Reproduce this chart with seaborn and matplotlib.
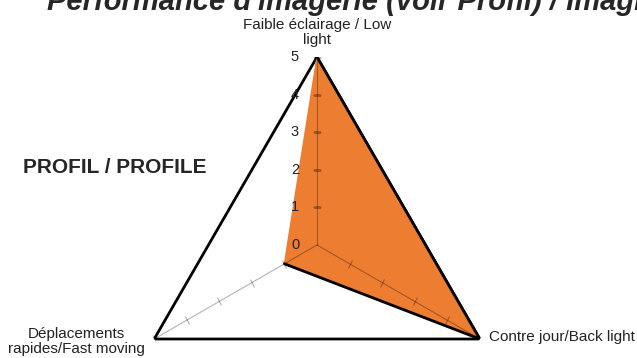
import numpy as np
import seaborn as sns
from matplotlib import pyplot as plt
from matplotlib.markers import MarkerStyle

# data
categories = ["Faible éclairage / Low\nlight",
              "Contre jour/Back light",
              "Déplacements\nrapides/Fast moving"]
values = [5, 5, 1]
levels = [0, 1, 2, 3, 4, 5]
title = "Performance d'imagerie (voir Profil) / Imaging performance (see Profile)"
side_label = "PROFIL / PROFILE"

sns.set_theme(style="white")
plt.rcParams['font.family'] = ['Liberation Sans', 'DejaVu Sans']

fig = plt.figure(figsize=(6.37, 3.58), dpi=100)
ax = fig.add_axes([0.2025, -0.2095, 0.5903, 1.0503], projection="polar")
ax.set_theta_zero_location("N")
ax.set_theta_direction(-1)
ax.set_ylim(0, max(levels))
ax.grid(False)
ax.spines["polar"].set_visible(False)
ax.set_xticks([])
ax.set_yticks([])
ax.set_facecolor("none")

n = len(categories)
angles = np.linspace(0, 2 * np.pi, n, endpoint=False)
closed_angles = np.append(angles, angles[0])
closed_values = np.append(values, values[0])

# outer ring
ax.plot(closed_angles, [max(levels)] * (n + 1), color="black", lw=2, zorder=1)

# series
ax.fill(closed_angles, closed_values, color="#ED7D31", zorder=2)
sns.lineplot(x=closed_angles, y=closed_values, sort=False, color="black",
             lw=2, ax=ax, zorder=4)

# spokes with ticks
for a in angles:
    ax.plot([a, a], [0, max(levels)], color="black", alpha=0.3, lw=0.8, zorder=3)
    screen_dir = 90 - np.degrees(a)
    tick = MarkerStyle("_").rotated(deg=screen_dir + 90)
    ax.plot([a] * (len(levels) - 1), levels[1:], ls="none", marker=tick,
            markersize=6, markeredgewidth=0.8, color="black", alpha=0.3, zorder=3)

# radial labels
for lv in levels:
    ax.annotate(str(lv), (0, lv), xytext=(-22, 0), textcoords="offset pixels",
                ha="center", va="center", fontsize=10.5, color="#222222")

# category labels
ax.annotate(categories[0], (angles[0], max(levels)), xytext=(0, 10),
            textcoords="offset pixels", ha="center", va="bottom",
            fontsize=11, linespacing=1.1, color="#222222", annotation_clip=False)
ax.annotate(categories[1], (angles[1], max(levels)), xytext=(9, -2),
            textcoords="offset pixels", ha="left", va="baseline",
            fontsize=11, color="#222222", annotation_clip=False)
ax.annotate(categories[2], (angles[2], max(levels)), xytext=(-78, 12),
            textcoords="offset pixels", ha="center", va="top",
            fontsize=11, linespacing=1.1, color="#222222", annotation_clip=False)

fig.text(23 / 637, 0.5335, side_label, ha="left", va="center",
         fontsize=15, fontweight="bold")
fig.text(47 / 637, (358 - 10) / 358, title, ha="left", va="baseline",
         fontsize=21, fontweight="bold", fontstyle="italic")

fig.savefig("out.png", dpi=100)
